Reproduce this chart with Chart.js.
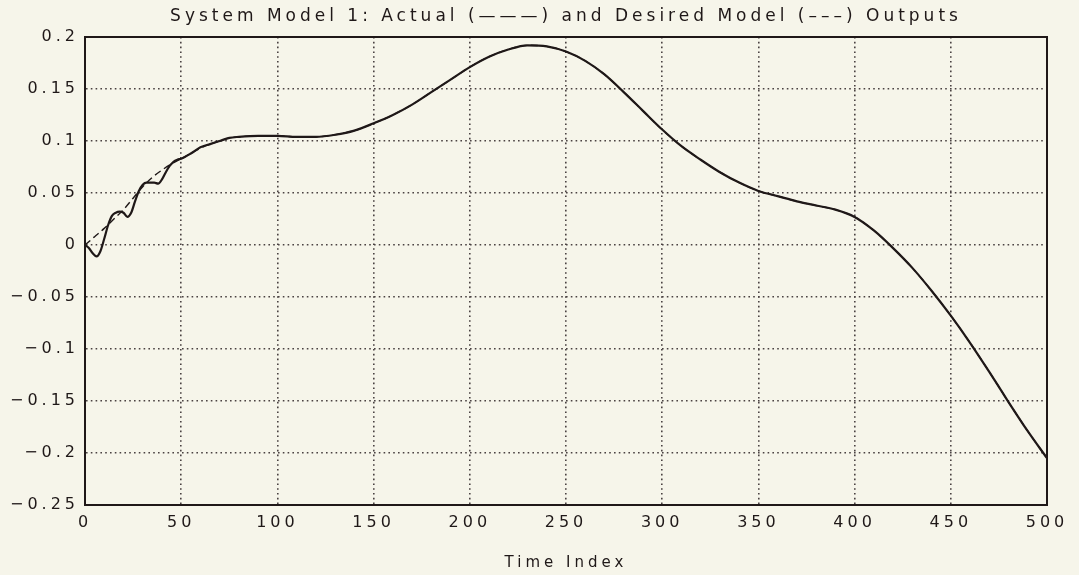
<!DOCTYPE html>
<html>
<head>
<meta charset="utf-8">
<title>System Model 1</title>
<script src="https://cdn.jsdelivr.net/npm/chart.js@4/dist/chart.umd.min.js"></script>
<style>
  html, body { margin: 0; padding: 0; background: #f6f5ea; }
  #wrap { width: 1079px; height: 575px; position: relative; }
</style>
</head>
<body>
<div id="wrap"><canvas id="outputChart"></canvas></div>
<script>
"use strict";

// Desired model output, sampled on the time index
const desiredTime = [0, 5, 10, 15, 20, 25, 30, 35, 40, 45, 50, 55, 60, 65, 70, 75, 80, 90,
    100, 110, 120, 130, 140, 150, 160, 170, 180, 190, 200, 210, 220, 230, 240, 250, 260,
    270, 280, 290, 300, 310, 320, 330, 340, 350, 360, 370, 380, 390, 400, 410, 420, 430,
    440, 450, 460, 470, 480, 490, 500];
const desiredValues = [0, 0.008, 0.016, 0.025, 0.034, 0.045, 0.056, 0.065, 0.072, 0.078,
    0.083, 0.088, 0.093, 0.097, 0.100, 0.103, 0.104, 0.105, 0.105, 0.104, 0.104, 0.106,
    0.110, 0.117, 0.125, 0.135, 0.147, 0.159, 0.171, 0.181, 0.188, 0.192, 0.191, 0.186,
    0.177, 0.164, 0.147, 0.129, 0.111, 0.095, 0.082, 0.070, 0.060, 0.052, 0.047, 0.042,
    0.038, 0.034, 0.027, 0.014, -0.003, -0.022, -0.044, -0.068, -0.094, -0.122, -0.151,
    -0.179, -0.205];

// Actual system output (oscillates at the start, then follows the model)
const actualTime = [0, 2, 4, 6, 8, 10, 12, 14, 16, 18, 20, 22, 24, 26, 28, 30, 32, 34, 36,
    38, 40, 42, 44, 46, 48, 50, 55, 60, 65, 70, 75, 80, 90, 100, 110, 120, 130, 140, 150,
    160, 170, 180, 190, 200, 210, 220, 230, 240, 250, 260, 270, 280, 290, 300, 310, 320,
    330, 340, 350, 360, 370, 380, 390, 400, 410, 420, 430, 440, 450, 460, 470, 480, 490, 500];
const actualValues = [0, -0.003, -0.008, -0.011, -0.006, 0.006, 0.019, 0.028, 0.031,
    0.032, 0.031, 0.027, 0.031, 0.042, 0.052, 0.058, 0.060, 0.060, 0.060, 0.059, 0.063,
    0.070, 0.076, 0.080, 0.082, 0.083, 0.088, 0.094, 0.097, 0.100, 0.103, 0.104, 0.105,
    0.105, 0.104, 0.104, 0.106, 0.110, 0.117, 0.125, 0.135, 0.147, 0.159, 0.171, 0.181,
    0.188, 0.192, 0.191, 0.186, 0.177, 0.164, 0.147, 0.129, 0.111, 0.095, 0.082, 0.070,
    0.060, 0.052, 0.047, 0.042, 0.038, 0.034, 0.027, 0.014, -0.003, -0.022, -0.044,
    -0.068, -0.094, -0.122, -0.151, -0.179, -0.205];

// Axis ticks
const xTicks = [0, 50, 100, 150, 200, 250, 300, 350, 400, 450, 500];
const yTicks = [0.2, 0.15, 0.1, 0.05, 0, -0.05, -0.1, -0.15, -0.2, -0.25];
const yTickLabels = ['0.2', '0.15', '0.1', '0.05', '0', '\u22120.05', '\u22120.1',
    '\u22120.15', '\u22120.2', '\u22120.25'];

const ink = '#1f1818';
const fontFamily = '"DejaVu Sans", sans-serif';

function toPoints(xs, ys) {
    return xs.map((x, i) => ({ x: x, y: ys[i] }));
}

// Wider letter spacing for all canvas text, plus the frame round the plot
const framePlugin = {
    id: 'frame',
    beforeLayout(chart) { chart.ctx.letterSpacing = '4px'; },
    beforeDraw(chart) { chart.ctx.letterSpacing = '4px'; },
    afterDraw(chart) {
        const { ctx, chartArea: a } = chart;
        ctx.save();
        ctx.strokeStyle = ink;
        ctx.lineWidth = 2;
        ctx.setLineDash([]);
        ctx.strokeRect(a.left, a.top, a.right - a.left, a.bottom - a.top);
        ctx.restore();
    }
};

const config = {
    type: 'line',
    data: {
        datasets: [
            {
                label: 'Actual',
                data: toPoints(actualTime, actualValues),
                borderColor: ink,
                borderWidth: 2.2,
                pointRadius: 0,
                cubicInterpolationMode: 'monotone',
                order: 0
            },
            {
                label: 'Desired Model',
                data: toPoints(desiredTime, desiredValues),
                borderColor: ink,
                borderWidth: 1.4,
                borderDash: [7, 4],
                pointRadius: 0,
                cubicInterpolationMode: 'monotone',
                order: 1
            }
        ]
    },
    plugins: [framePlugin],
    options: {
        responsive: true,
        maintainAspectRatio: false,
        animation: false,
        layout: { padding: { left: 0, right: 32, top: 0, bottom: 0 } },
        plugins: {
            legend: { display: false },
            tooltip: { enabled: false },
            title: {
                display: true,
                fullSize: false,
                text: 'System Model 1: Actual (\u2014\u2014\u2014) and Desired Model (\u2013\u2013\u2013) Outputs',
                color: ink,
                font: { family: fontFamily, size: 17, weight: 'normal' },
                padding: { top: 6, bottom: 10.6 }
            }
        },
        scales: {
            x: {
                type: 'linear',
                min: 0,
                max: 500,
                afterBuildTicks(scale) {
                    scale.ticks = xTicks.map(v => ({ value: v }));
                },
                afterFit(scale) { scale.height = 70; },
                ticks: {
                    color: ink,
                    padding: 8,
                    maxRotation: 0,
                    font: { family: fontFamily, size: 16 }
                },
                grid: { color: '#4a4242', lineWidth: 1.6, drawTicks: false },
                border: { display: true, color: ink, width: 2, dash: [1.6, 3.2] },
                title: {
                    display: true,
                    text: 'Time Index',
                    color: ink,
                    font: { family: fontFamily, size: 15 },
                    padding: { top: 0, bottom: 3 }
                }
            },
            y: {
                min: -0.25,
                max: 0.2,
                afterBuildTicks(scale) {
                    scale.ticks = yTicks.map(v => ({ value: v }));
                },
                afterFit(scale) { scale.width = 85; },
                ticks: {
                    color: ink,
                    padding: 6,
                    font: { family: fontFamily, size: 16 },
                    callback(value) {
                        const i = yTicks.findIndex(t => Math.abs(t - value) < 1e-9);
                        return i >= 0 ? yTickLabels[i] : '';
                    }
                },
                grid: { color: '#4a4242', lineWidth: 1.6, drawTicks: false },
                border: { display: true, color: ink, width: 2, dash: [1.6, 3.2] }
            }
        }
    }
};

const ctx = document.getElementById('outputChart').getContext('2d');
new Chart(ctx, config);
</script>
</body>
</html>
